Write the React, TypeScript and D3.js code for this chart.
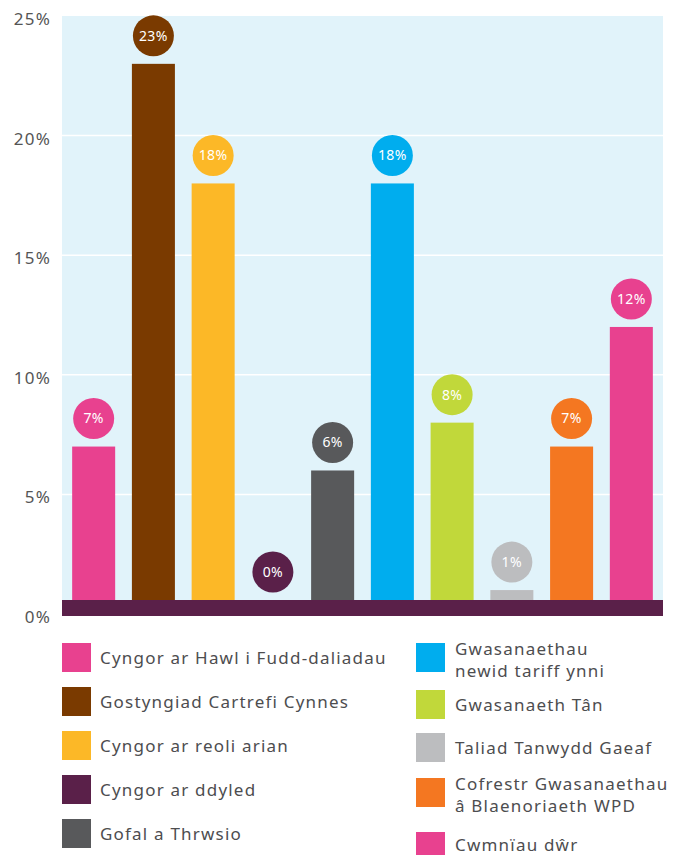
import React from 'react';
import * as d3 from 'd3';

const categories = [
  'Cyngor ar Hawl i Fudd-daliadau',
  'Gostyngiad Cartrefi Cynnes',
  'Cyngor ar reoli arian',
  'Cyngor ar ddyled',
  'Gofal a Thrwsio',
  'Gwasanaethau newid tariff ynni',
  'Gwasanaeth Tân',
  'Taliad Tanwydd Gaeaf',
  'Cofrestr Gwasanaethau â Blaenoriaeth WPD',
  'Cwmnïau dŵr',
];
const values = [7, 23, 18, 0, 6, 18, 8, 1, 7, 12];
const colors = ['#e8418f', '#7a3a00', '#fcb827', '#5a2049', '#58595b', '#00adee', '#c1d83a', '#bcbdbf', '#f47721', '#e8418f'];
const yTicks = [0, 5, 10, 15, 20, 25];

// legend rows, split into two columns, multi-line labels broken by hand
const legendLeft = [
  ['Cyngor ar Hawl i Fudd-daliadau'],
  ['Gostyngiad Cartrefi Cynnes'],
  ['Cyngor ar reoli arian'],
  ['Cyngor ar ddyled'],
  ['Gofal a Thrwsio'],
];
const legendRight = [
  ['Gwasanaethau', 'newid tariff ynni'],
  ['Gwasanaeth Tân'],
  ['Taliad Tanwydd Gaeaf'],
  ['Cofrestr Gwasanaethau', 'â Blaenoriaeth WPD'],
  ['Cwmnïau dŵr'],
];

const W = 679;
const H = 855;
const plotLeft = 62;
const plotRight = 663;
const plotTop = 16;
const baseY = 614;
const bandTop = 600;
const font = "'Noto Sans', sans-serif";

export default function App() {
  const x = d3.scaleBand<string>().domain(categories).range([plotLeft, plotRight]).paddingInner(0.28).paddingOuter(0.17);
  const y = d3.scaleLinear().domain([0, 25]).range([baseY, plotTop]);

  const leftY = [658, 702, 746, 790, 834];
  const rightY = [658, 705, 748, 793, 845];

  return (
    <svg width={W} height={H} style={{ position: 'absolute', left: 0, top: 0 }} fontFamily={font}>
      <rect x={plotLeft} y={plotTop} width={plotRight - plotLeft} height={baseY - plotTop} fill="#e1f3fa" />
      {yTicks.filter(t => t > 0 && t < 25).map(t => (
        <line key={t} x1={plotLeft} x2={plotRight} y1={y(t)} y2={y(t)} stroke="#fff" strokeWidth={1.5} />
      ))}
      {yTicks.map(t => (
        <text key={t} x={51} y={y(t) + 3} dy="0.35em" textAnchor="end" fontSize={17} letterSpacing={1.2} fill="#555">{t}%</text>
      ))}
      {categories.map((c, i) => {
        const top = Math.min(y(values[i]), bandTop);
        const cx = x(c)! + x.bandwidth() / 2;
        return (
          <g key={c}>
            <rect x={x(c)} y={y(values[i])} width={x.bandwidth()} height={baseY - y(values[i])} fill={colors[i]} />
            <circle cx={cx} cy={top - 28} r={20.5} fill={colors[i]} />
            <text x={cx} y={top - 28} dy="0.35em" textAnchor="middle" fontSize={14} letterSpacing={0.4} fill="#fff">{values[i]}%</text>
          </g>
        );
      })}
      <rect x={plotLeft} y={bandTop} width={plotRight - plotLeft} height={16} fill="#5a2049" />
      {legendLeft.map((lines, i) => (
        <g key={i}>
          <rect x={62} y={leftY[i] - 15} width={29} height={29} fill={colors[i]} />
          {lines.map((l, j) => (
            <text key={j} x={100} y={leftY[i] + j * 22} dy="0.35em" fontSize={17} letterSpacing={1.2} fill="#4d4d4f">{l}</text>
          ))}
        </g>
      ))}
      {legendRight.map((lines, i) => (
        <g key={i}>
          <rect x={416} y={rightY[i] - (i === 4 ? 13 : 15)} width={29} height={i === 4 ? 23 : 29} fill={colors[i + 5]} />
          {lines.map((l, j) => (
            <text key={j} x={455} y={rightY[i] - 9 * (lines.length - 1) + j * 22} dy="0.35em" fontSize={17} letterSpacing={1.2} fill="#4d4d4f">{l}</text>
          ))}
        </g>
      ))}
    </svg>
  );
}
